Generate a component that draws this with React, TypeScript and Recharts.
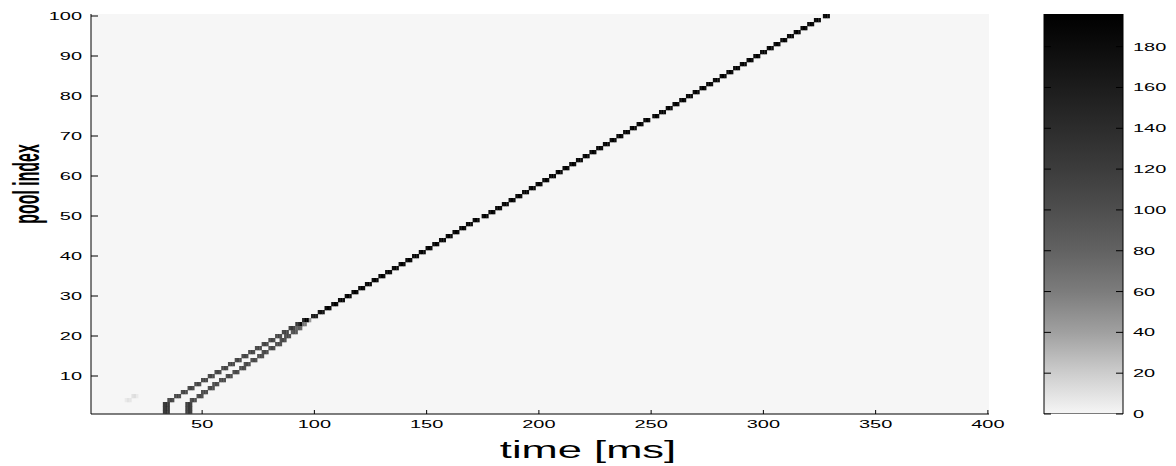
import React from 'react';
import { ScatterChart, Scatter, XAxis, YAxis, CartesianGrid, BarChart, Bar } from 'recharts';

// axis ticks
const timeTicks = [50, 100, 150, 200, 250, 300, 350, 400];
const poolTicks = [10, 20, 30, 40, 50, 60, 70, 80, 90, 100];
const countTicks = [0, 20, 40, 60, 80, 100, 120, 140, 160, 180];

// onset bin [ms] of the pulse in pool 1..100 along the leading front
const frontOnset = [
  33, 33, 33, 35, 38, 41, 44, 47, 50, 53,
  56, 59, 62, 65, 68, 71, 74, 77, 80, 83,
  86, 89, 92, 95, 99, 102, 105, 108, 111, 114,
  117, 120, 123, 126, 129, 132, 135, 138, 141, 144,
  147, 150, 153, 156, 159, 162, 165, 168, 171, 175,
  178, 181, 184, 187, 190, 193, 196, 199, 202, 205,
  208, 211, 214, 217, 220, 223, 226, 229, 232, 235,
  238, 241, 244, 247, 251, 254, 257, 260, 263, 266,
  269, 272, 275, 278, 281, 284, 287, 290, 293, 296,
  299, 302, 305, 308, 311, 314, 317, 320, 323, 327,
];

// peak count of each pulse on the leading front
const frontPeak = [
  135, 135, 135, 112, 112, 112, 112, 112, 112, 112,
  112, 112, 112, 112, 112, 112, 112, 112, 112, 112,
  116, 124, 138, 156, 172, 186, 196, 196, 196, 196,
  196, 196, 196, 196, 196, 196, 196, 196, 196, 196,
  196, 196, 196, 196, 196, 196, 196, 196, 196, 196,
  196, 196, 196, 196, 196, 196, 196, 196, 196, 196,
  196, 196, 196, 196, 196, 196, 196, 196, 196, 196,
  196, 196, 196, 196, 196, 196, 196, 196, 196, 196,
  196, 196, 196, 196, 196, 196, 196, 196, 196, 196,
  196, 196, 196, 196, 196, 196, 196, 196, 196, 196,
];

// delayed second front in pools 1..24, it joins the first one near pool 25
const trailOnset = [
  43, 43, 43, 45, 48, 50, 53, 55, 58, 61,
  64, 67, 69, 72, 75, 77, 80, 83, 85, 87,
  90, 92, 94, 96,
];
const trailPeak = [
  125, 125, 125, 108, 108, 108, 108, 108, 108, 108,
  108, 108, 108, 108, 108, 108, 108, 108, 108, 108,
  100, 86, 68, 48,
];

// relative weight of the three 1 ms bins of a pulse
const pulseShape = [0.9, 1, 0.9];

// weak early activity
const strayTime = [16, 17, 18, 19, 20, 21];
const strayPool = [4, 4, 4, 5, 5, 5];
const strayCount = [6, 10, 8, 10, 12, 6];

// colormap: count -> gray level
const grayLevels = [0, 20, 40, 60, 80, 100, 120, 140, 160, 180, 196];
const grayValues = [246, 205, 160, 124, 98, 78, 60, 44, 28, 12, 0];

const WIDTH = 1176;
const HEIGHT = 466;
const PLOT_LEFT = 91;
const PLOT_RIGHT = 989;
const PLOT_TOP = 14;
const PLOT_BOTTOM = 414;
const T_DOMAIN: [number, number] = [0.5, 400.5];
const POOL_DOMAIN: [number, number] = [0.5, 100.5];
const COUNT_MAX = 196;
const CELL_W = (PLOT_RIGHT - PLOT_LEFT) / (T_DOMAIN[1] - T_DOMAIN[0]);
const CELL_H = (PLOT_BOTTOM - PLOT_TOP) / (POOL_DOMAIN[1] - POOL_DOMAIN[0]);
const STRETCH = 1.85;
const FONT = '"Liberation Sans", Arial, Helvetica, sans-serif';

const BAR_LEFT = 1044;
const BAR_RIGHT = 1123;

interface HeatCell {
  t: number;
  pool: number;
  count: number;
}

const buildCells = (): HeatCell[] => {
  const grid = new Map<string, HeatCell>();
  const add = (t: number, pool: number, count: number) => {
    const key = `${t}:${pool}`;
    const cell = grid.get(key);
    if (cell) cell.count = Math.min(COUNT_MAX, cell.count + count);
    else grid.set(key, { t, pool, count: Math.min(COUNT_MAX, count) });
  };
  frontOnset.forEach((onset, i) =>
    pulseShape.forEach((w, k) => add(onset + k, i + 1, frontPeak[i] * w))
  );
  trailOnset.forEach((onset, i) =>
    pulseShape.forEach((w, k) => add(onset + k, i + 1, trailPeak[i] * w))
  );
  strayTime.forEach((t, i) => add(t, strayPool[i], strayCount[i]));
  return Array.from(grid.values());
};

const cells = buildCells();

const grayFor = (count: number) => {
  let i = 1;
  while (i < grayLevels.length - 1 && count > grayLevels[i]) i++;
  const lo = grayLevels[i - 1];
  const hi = grayLevels[i];
  const f = Math.max(0, Math.min(1, (count - lo) / (hi - lo)));
  const g = Math.round(grayValues[i - 1] + (grayValues[i] - grayValues[i - 1]) * f);
  return `rgb(${g},${g},${g})`;
};

const renderCell = (props: any) => {
  const { cx, cy, payload } = props;
  return (
    <rect
      x={cx - CELL_W / 2}
      y={cy - CELL_H / 2}
      width={CELL_W + 0.3}
      height={CELL_H + 0.3}
      fill={grayFor(payload.count)}
    />
  );
};

const StretchedText: React.FC<{ x: number; y: number; anchor: 'start' | 'middle' | 'end'; size?: number; children: React.ReactNode }> = ({ x, y, anchor, size = 10.8, children }) => (
  <text
    transform={`matrix(${STRETCH},0,0,1,${x},${y})`}
    textAnchor={anchor}
    fontSize={size}
    fontFamily={FONT}
    fill="#000"
  >
    {children}
  </text>
);

// matlab-style ticks: short marks pointing into the axes box
const BottomTick = (props: any) => {
  const { x, y, payload } = props;
  return (
    <g>
      <line x1={x} y1={y} x2={x} y2={y - 4} stroke="#000" />
      <StretchedText x={x} y={y + 14} anchor="middle">{payload.value}</StretchedText>
    </g>
  );
};

const TopTick = (props: any) => {
  const { x, y } = props;
  return <line x1={x} y1={y} x2={x} y2={y + 4} stroke="#000" />;
};

const LeftTick = (props: any) => {
  const { x, y, payload } = props;
  return (
    <g>
      <line x1={x} y1={y} x2={x + 7} y2={y} stroke="#000" />
      <StretchedText x={x - 9} y={y + 4} anchor="end">{payload.value}</StretchedText>
    </g>
  );
};

const RightTick = (props: any) => {
  const { x, y } = props;
  return <line x1={x - 7} y1={y} x2={x} y2={y} stroke="#000" />;
};

const ColorbarTick = (props: any) => {
  const { x, y, payload } = props;
  return (
    <g>
      <line x1={x - 7} y1={y} x2={x} y2={y} stroke="#000" />
      <line x1={x - (BAR_RIGHT - BAR_LEFT)} y1={y} x2={x - (BAR_RIGHT - BAR_LEFT) + 7} y2={y} stroke="#000" />
      <StretchedText x={x + 10} y={y + 4} anchor="start">{payload.value}</StretchedText>
    </g>
  );
};

const colorbarData = [{ name: 'count', top: COUNT_MAX }];

export default function App() {
  return (
    <div style={{ position: 'absolute', left: 0, top: 0, width: WIDTH, height: HEIGHT, background: '#fff' }}>
      <style>{`.recharts-scatter { filter: url(#cellSoften); }`}</style>
      <svg width={0} height={0} style={{ position: 'absolute' }}>
        <defs>
          <filter id="cellSoften" x="-2%" y="-2%" width="104%" height="104%">
            <feGaussianBlur stdDeviation="0.55 0.7" />
          </filter>
          <linearGradient id="countScale" x1="0" y1="1" x2="0" y2="0">
            {grayLevels.map((lv, i) => (
              <stop
                key={lv}
                offset={lv / COUNT_MAX}
                stopColor={`rgb(${grayValues[i]},${grayValues[i]},${grayValues[i]})`}
              />
            ))}
          </linearGradient>
        </defs>
      </svg>

      <div style={{ position: 'absolute', left: 0, top: 0 }}>
        <ScatterChart
          width={WIDTH}
          height={HEIGHT}
          margin={{ top: PLOT_TOP, right: WIDTH - PLOT_RIGHT, bottom: 0, left: 0 }}
        >
          <CartesianGrid horizontal={false} vertical={false} fill={grayFor(0)} />
          <XAxis
            dataKey="t"
            type="number"
            domain={T_DOMAIN}
            ticks={timeTicks}
            allowDataOverflow
            interval={0}
            height={HEIGHT - PLOT_BOTTOM}
            tickSize={0}
            tickMargin={0}
            tickLine={false}
            axisLine={{ stroke: '#000' }}
            tick={BottomTick}
          />
          <XAxis
            xAxisId="top"
            orientation="top"
            type="number"
            domain={T_DOMAIN}
            ticks={timeTicks}
            allowDataOverflow
            interval={0}
            height={0}
            tickSize={0}
            tickMargin={0}
            tickLine={false}
            axisLine={{ stroke: '#000' }}
            tick={TopTick}
          />
          <YAxis
            dataKey="pool"
            type="number"
            domain={POOL_DOMAIN}
            ticks={poolTicks}
            allowDataOverflow
            interval={0}
            width={PLOT_LEFT}
            tickSize={0}
            tickMargin={0}
            tickLine={false}
            axisLine={{ stroke: '#000' }}
            tick={LeftTick}
          />
          <YAxis
            yAxisId="right"
            orientation="right"
            type="number"
            domain={POOL_DOMAIN}
            ticks={poolTicks}
            allowDataOverflow
            interval={0}
            width={0}
            tickSize={0}
            tickMargin={0}
            tickLine={false}
            axisLine={{ stroke: '#000' }}
            tick={RightTick}
          />
          <Scatter data={cells} shape={renderCell} isAnimationActive={false} />
        </ScatterChart>
      </div>

      <div style={{ position: 'absolute', left: BAR_LEFT - 1, top: 0 }}>
        <BarChart
          width={WIDTH - BAR_LEFT + 1}
          height={HEIGHT}
          data={colorbarData}
          margin={{ top: PLOT_TOP, right: 0, bottom: HEIGHT - PLOT_BOTTOM, left: 1 }}
          barCategoryGap={0}
        >
          <XAxis dataKey="name" hide />
          <YAxis
            orientation="right"
            type="number"
            domain={[0, COUNT_MAX]}
            ticks={countTicks}
            allowDataOverflow
            interval={0}
            width={WIDTH - BAR_RIGHT}
            tickSize={0}
            tickMargin={0}
            tickLine={false}
            axisLine={false}
            tick={ColorbarTick}
          />
          <Bar dataKey="top" fill="url(#countScale)" stroke="#000" isAnimationActive={false} />
        </BarChart>
      </div>

      {/* axis titles; the rotated one is squeezed along its reading direction */}
      <svg
        width={WIDTH}
        height={HEIGHT}
        style={{ position: 'absolute', left: 0, top: 0, pointerEvents: 'none' }}
      >
        <text
          transform="translate(39,184) rotate(-90) scale(0.43,1)"
          textAnchor="middle"
          fontSize={37}
          fontWeight="bold"
          fontFamily={FONT}
          fill="#000"
        >
          pool index
        </text>
        <text
          transform={`matrix(${STRETCH},0,0,1,588,458)`}
          textAnchor="middle"
          fontSize={23.5}
          fontFamily={FONT}
          fill="#000"
        >
          time [ms]
        </text>
      </svg>
    </div>
  );
}
